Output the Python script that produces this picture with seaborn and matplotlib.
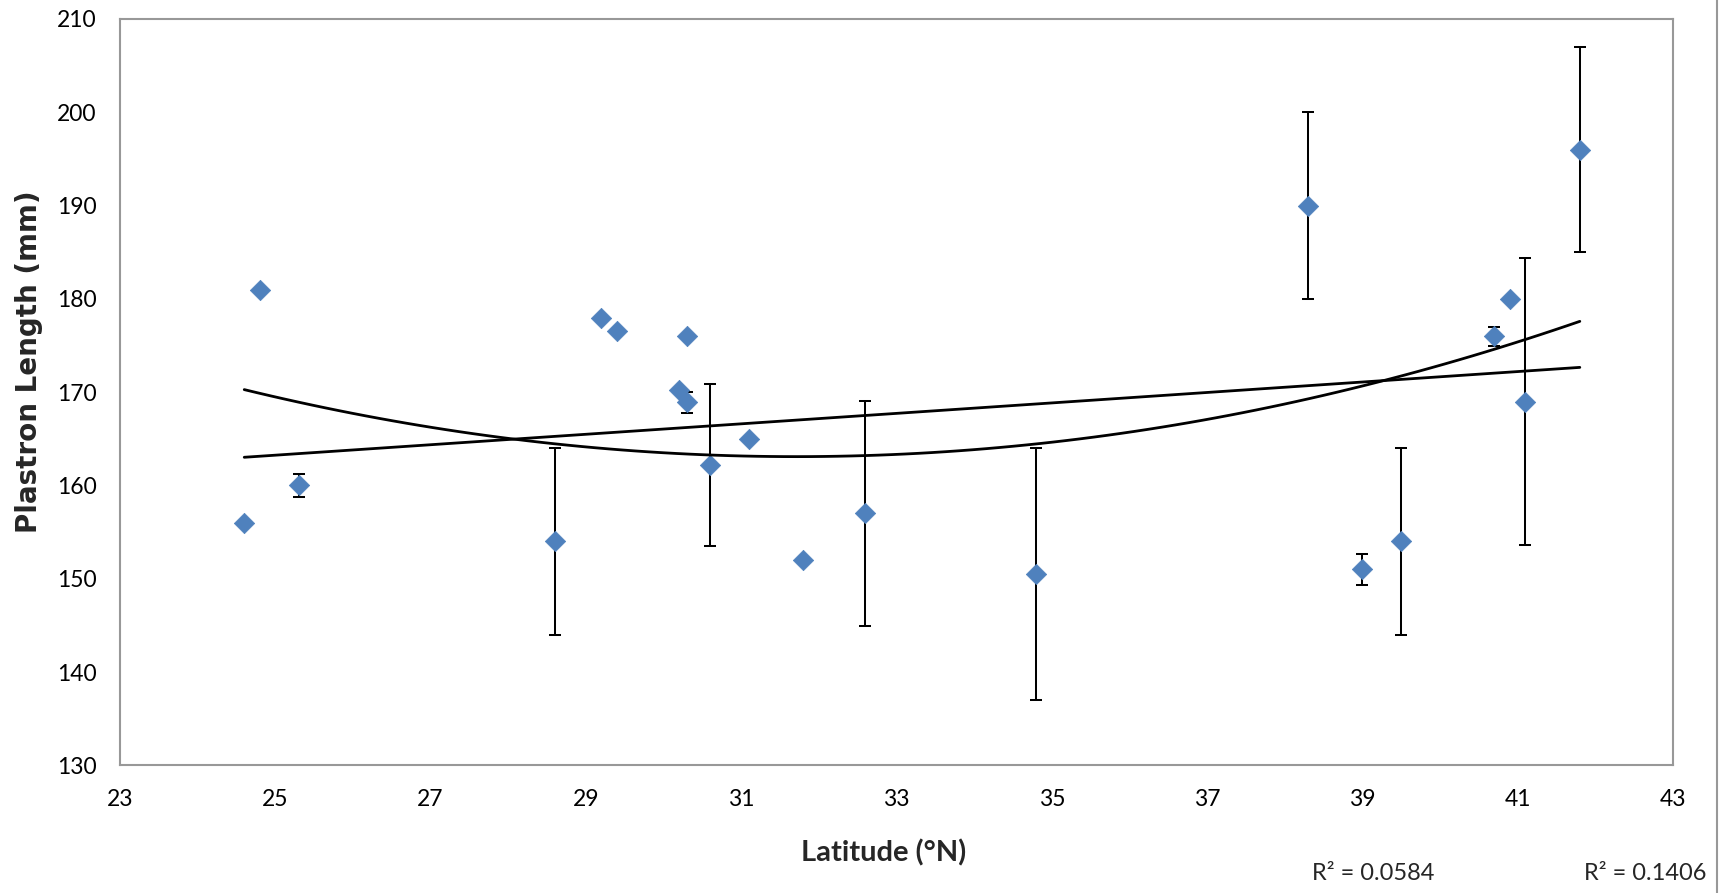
import numpy as np
import pandas as pd
import matplotlib
matplotlib.use("Agg")
import matplotlib.pyplot as plt
from matplotlib.lines import Line2D
import seaborn as sns

# ---- data ----
latitude = [24.6, 24.8, 25.3, 28.6, 29.2, 29.4, 30.2, 30.3, 30.3, 30.6, 31.1,
            31.8, 32.6, 34.8, 38.3, 39.0, 39.5, 40.7, 40.9, 41.1, 41.8]
plastron = [156, 181, 160, 154, 178, 176.6, 170.2, 176, 168.9, 162.2, 165,
            152, 157, 150.5, 190, 151, 154, 176, 180, 169, 196]
error = [0, 0, 1.2, 10, 0, 0, 0, 0, 1.15, 8.7, 0,
         0, 12.1, 13.5, 10, 1.7, 10, 1, 0, 15.4, 11]
x_ticks = [23, 25, 27, 29, 31, 33, 35, 37, 39, 41, 43]
y_ticks = [130, 140, 150, 160, 170, 180, 190, 200, 210]
r2_labels = ["R² = 0.0584", "R² = 0.1406"]
x_title = "Latitude (°N)"
y_title = "Plastron Length (mm)"

df = pd.DataFrame({"lat": latitude, "pl": plastron, "err": error})

sns.set_style("white")
plt.rcParams["font.family"] = ["Lato", "DejaVu Sans"]

W, H = 1733, 893
fig = plt.figure(figsize=(W / 100, H / 100), dpi=100)
ax = fig.add_axes([120 / W, 1 - 765.4 / H, 1553 / W, 746.4 / H])

blue = "#4F81BD"
spine_col = "#989898"

# error bars (only where a bar exists)
eb = df[df["err"] > 0]
ax.errorbar(eb["lat"], eb["pl"], yerr=eb["err"], fmt="none", ecolor="black",
            elinewidth=1.45, capsize=4.3, capthick=1.45, zorder=2)

# points
sns.scatterplot(data=df, x="lat", y="pl", marker="D", s=108, color=blue,
                edgecolor=blue, linewidth=0.5, ax=ax, zorder=3, legend=False)

# trendlines (linear and quadratic)
line_kws = dict(color="black", lw=2.0, zorder=4)
sns.regplot(data=df, x="lat", y="pl", order=1, ci=None, scatter=False,
            truncate=True, line_kws=line_kws, ax=ax)
sns.regplot(data=df, x="lat", y="pl", order=2, ci=None, scatter=False,
            truncate=True, line_kws=line_kws, ax=ax)

ax.set_xlim(23, 43)
ax.set_ylim(130, 210)
ax.set_xticks(x_ticks)
ax.set_yticks(y_ticks)
ax.set_xticklabels([str(t) for t in x_ticks])
ax.set_yticklabels([str(t) for t in y_ticks])
ax.tick_params(axis="both", length=0, labelsize=16.5, colors="black")
ax.tick_params(axis="y", pad=17)
ax.tick_params(axis="x", pad=17)

for s in ax.spines.values():
    s.set_visible(True)
    s.set_color(spine_col)
    s.set_linewidth(1.5)

ax.set_xlabel(x_title, fontsize=21, fontweight="bold", family=["Lato", "DejaVu Sans"])
ax.xaxis.label.set_va("center")
ax.xaxis.set_label_coords((884 - 120) / 1553, (765.4 - 853) / 746.4)

ax.set_ylabel(y_title, fontsize=20, fontweight="bold", family=["DejaVu Sans"])
ax.yaxis.label.set_va("center")
ax.yaxis.set_label_coords((29 - 120) / 1553, (765.4 - 362) / 746.4)

fig.text(1373 / W, 1 - 873 / H, r2_labels[0], fontsize=17, ha="center", va="center")
fig.text(1645 / W, 1 - 873 / H, r2_labels[1], fontsize=17, ha="center", va="center")

# outer chart border on the right
fig.add_artist(Line2D([1717 / W, 1717 / W], [0, 1], transform=fig.transFigure,
                      color=spine_col, lw=1.5))

fig.savefig("out.png", dpi=100)
